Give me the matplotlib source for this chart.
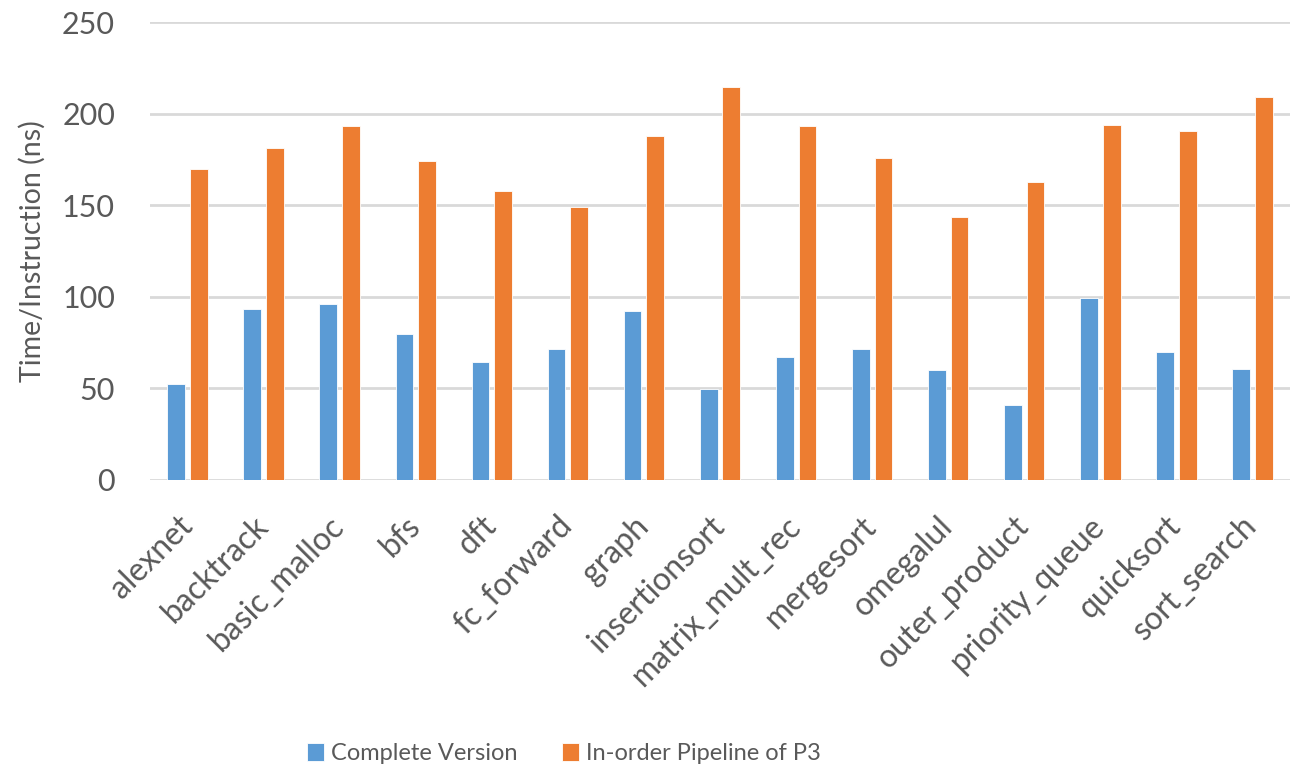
import numpy as np
import matplotlib.pyplot as plt

# benchmarks and time per instruction (ns)
benchmarks = ['alexnet', 'backtrack', 'basic_malloc', 'bfs', 'dft', 'fc_forward',
              'graph', 'insertionsort', 'matrix_mult_rec', 'mergesort', 'omegalul',
              'outer_product', 'priority_queue', 'quicksort', 'sort_search']
complete_version = [52.3, 93.1, 95.9, 79.7, 64.1, 71.4, 92.2, 49.8, 67.1, 71.4,
                    59.8, 40.6, 99.5, 69.6, 60.5]
inorder_p3 = [169.7, 181.5, 193.2, 174.2, 158.0, 149.1, 187.9, 214.9, 193.2, 176.0,
              143.6, 162.6, 194.1, 190.6, 209.4]
yticks = [0, 50, 100, 150, 200, 250]

BLUE = '#5b9bd5'
ORANGE = '#ed7d31'
GRID = '#d9d9d9'
TXT = '#595959'

plt.rcParams['font.family'] = ['Lato', 'DejaVu Sans']

fig = plt.figure(figsize=(13.02, 7.75), dpi=100)
ax = fig.add_axes([0.115, 0.381, 0.876, 0.590])

x = np.arange(len(benchmarks))
w = 0.235
ax.bar(x - 0.15, complete_version, w, color=BLUE, edgecolor='white', linewidth=0.6,
       label='Complete Version', zorder=3)
ax.bar(x + 0.15, inorder_p3, w, color=ORANGE, edgecolor='white', linewidth=0.6,
       label='In-order Pipeline of P3', zorder=3)

ax.set_xlim(-0.5, len(benchmarks) - 0.5)
ax.set_ylim(0, 250)
ax.set_yticks(yticks)
ax.yaxis.grid(True, color=GRID, linewidth=2, zorder=0)
ax.set_axisbelow(True)
for s in ax.spines.values():
    s.set_visible(False)
ax.tick_params(length=0, colors=TXT)
ax.tick_params(axis='y', labelsize=22, pad=25)
ax.set_xticks(x)
ax.set_xticklabels(benchmarks, rotation=45, ha='right', va='center',
                   rotation_mode='anchor')
ax.tick_params(axis='x', labelsize=23, pad=30)
ax.set_ylabel('Time/Instruction (ns)', fontsize=20.5, color=TXT, labelpad=12)

fig.legend(loc='center', bbox_to_anchor=(0.433, 0.028), ncol=2, frameon=False,
           fontsize=17, handlelength=0.7, handleheight=0.8, handletextpad=0.3,
           columnspacing=1.9, labelcolor=TXT)

fig.savefig('out.png', dpi=100, facecolor='white')
